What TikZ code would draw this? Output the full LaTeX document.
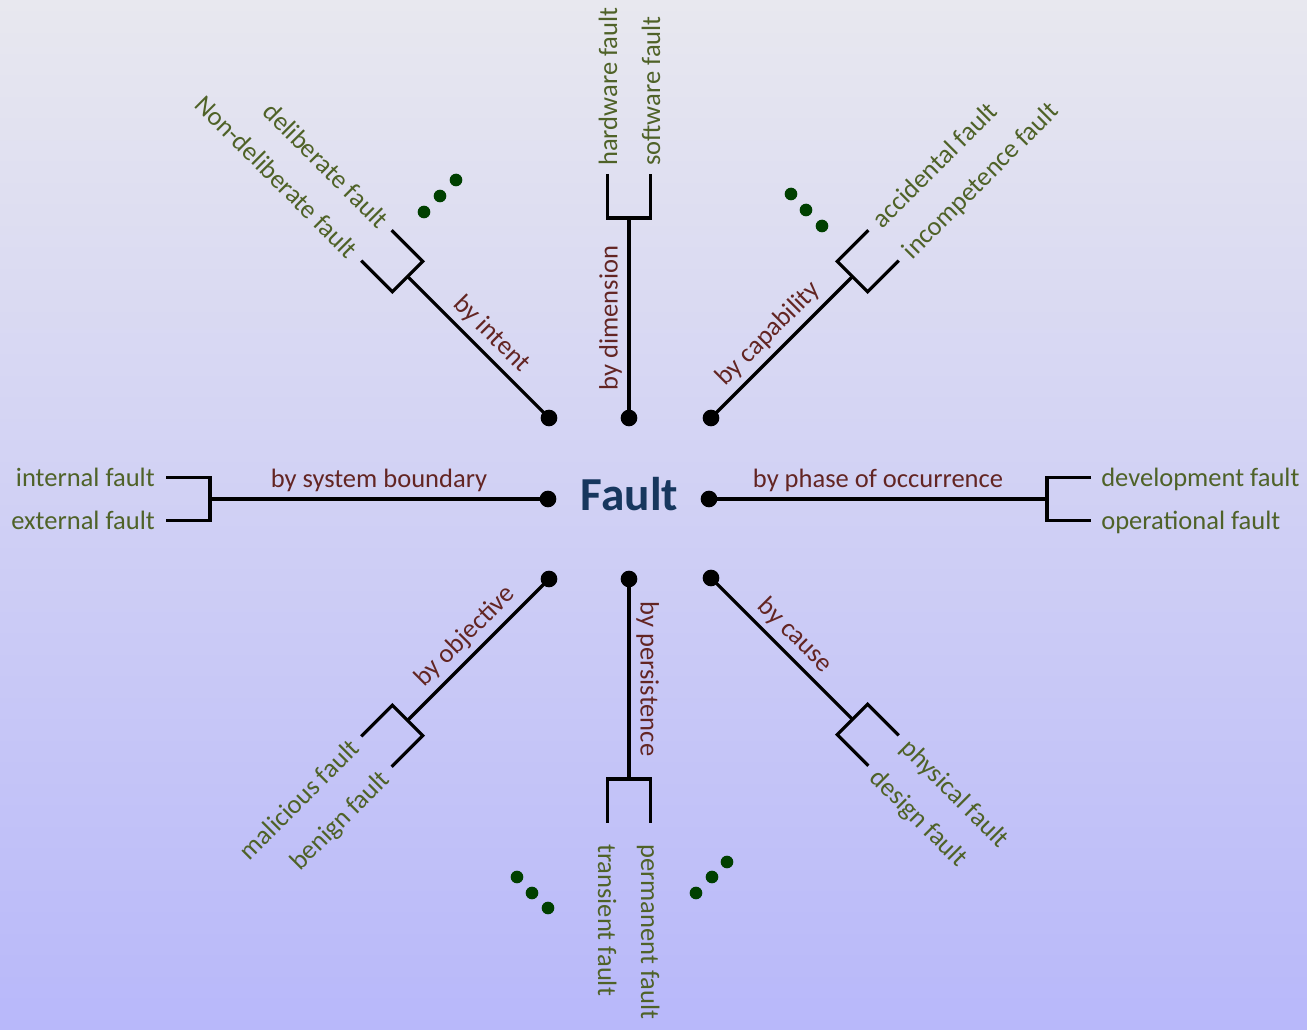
\documentclass[tikz,border=0pt]{standalone}
\usepackage{fontspec}
\setmainfont{Carlito}
\usetikzlibrary{calc}
\definecolor{bgtop}{RGB}{232,232,239}
\definecolor{bgbottom}{RGB}{184,184,250}
\definecolor{leafgreen}{RGB}{79,98,40}
\definecolor{critbrown}{RGB}{99,37,35}
\definecolor{rootblue}{RGB}{23,55,94}
\definecolor{etcgreen}{RGB}{0,64,0}
\begin{document}
\begin{tikzpicture}[x=0.75pt,y=0.75pt,
  stem/.style={line width=2.4pt},
  hub/.style={circle,fill=black,inner sep=0pt,minimum size=12.5pt},
  etcdot/.style={circle,fill=etcgreen,inner sep=0pt,minimum size=9.5pt},
  leaf/.style={text=leafgreen,inner sep=0pt,font=\fontsize{19.9}{24}\selectfont},
  crit/.style={text=critbrown,inner sep=0pt,font=\fontsize{19.9}{24}\selectfont},
  rootlabel/.style={text=rootblue,inner sep=0pt,font=\fontsize{35.5}{42}\selectfont\bfseries}]

% background
\useasboundingbox (0,0) rectangle (1307,1030);
\fill[top color=bgtop,bottom color=bgbottom] (0,0) rectangle (1307,1030);

% central concept
\node[rootlabel,anchor=base] (fault) at (629.5,519) {Fault};

% hubs around the centre
\node[hub] (dNW) at (549,612) {};
\node[hub] (dN)  at (629,612) {};
\node[hub] (dNE) at (711,612) {};
\node[hub] (dW)  at (548,531) {};
\node[hub] (dE)  at (709,531) {};
\node[hub] (dSW) at (549,451) {};
\node[hub] (dS)  at (629,451) {};
\node[hub] (dSE) at (711,452) {};

% one classification branch per hub
\foreach \nm/\ang/\len/\lab/\rot/\anc/\ta/\tb/\gp in {
  NW/135/200/by intent/-45/east/Non-deliberate fault/deliberate fault/10,
  N/90/200/by dimension/90/west/hardware fault/software fault/8,
  NE/45/200/by capability/45/west/accidental fault/incompetence fault/10,
  W/180/338/by system boundary/0/east/external fault/internal fault/11,
  E/0/338/by phase of occurrence/0/west/development fault/operational fault/10,
  SW/225/200/by objective/45/east/benign fault/malicious fault/10,
  S/270/200/by persistence/-90/west/permanent fault/transient fault/21,
  SE/-45/200/by cause/-45/west/physical fault/design fault/10}{
  \coordinate (j\nm)  at ($(d\nm)+(\ang:\len)$);
  \coordinate (c1\nm) at ($(j\nm)+(\ang+90:21.5)$);
  \coordinate (c2\nm) at ($(j\nm)+(\ang-90:21.5)$);
  \coordinate (e1\nm) at ($(c1\nm)+(\ang:44)$);
  \coordinate (e2\nm) at ($(c2\nm)+(\ang:44)$);
  \draw[stem] (d\nm.center) -- (j\nm);
  \draw[stem] (e1\nm) -- (c1\nm) -- (c2\nm) -- (e2\nm);
  \node[crit,rotate=\rot,anchor=base] (k\nm)
    at ($(d\nm)!0.5!(j\nm)+(\rot+90:11.5)$) {\lab};
  \node[leaf,rotate=\rot,anchor=base \anc] (ta\nm)
    at ($(e1\nm)+(\ang:\gp)+(\rot-90:9.5)$) {\ta};
  \node[leaf,rotate=\rot,anchor=base \anc] (tb\nm)
    at ($(e2\nm)+(\ang:\gp)+(\rot-90:9.5)$) {\tb};
}

% ellipses hinting at further classes
\node[etcdot] (etcA1) at (424,818) {};
\node[etcdot] (etcA2) at (440,834) {};
\node[etcdot] (etcA3) at (456,850) {};
\node[etcdot] (etcB1) at (791,836) {};
\node[etcdot] (etcB2) at (806,820) {};
\node[etcdot] (etcB3) at (822,804) {};
\node[etcdot] (etcC1) at (517,153) {};
\node[etcdot] (etcC2) at (532,137) {};
\node[etcdot] (etcC3) at (548,122) {};
\node[etcdot] (etcD1) at (696,137) {};
\node[etcdot] (etcD2) at (712,153) {};
\node[etcdot] (etcD3) at (727,168) {};
\end{tikzpicture}
\end{document}
